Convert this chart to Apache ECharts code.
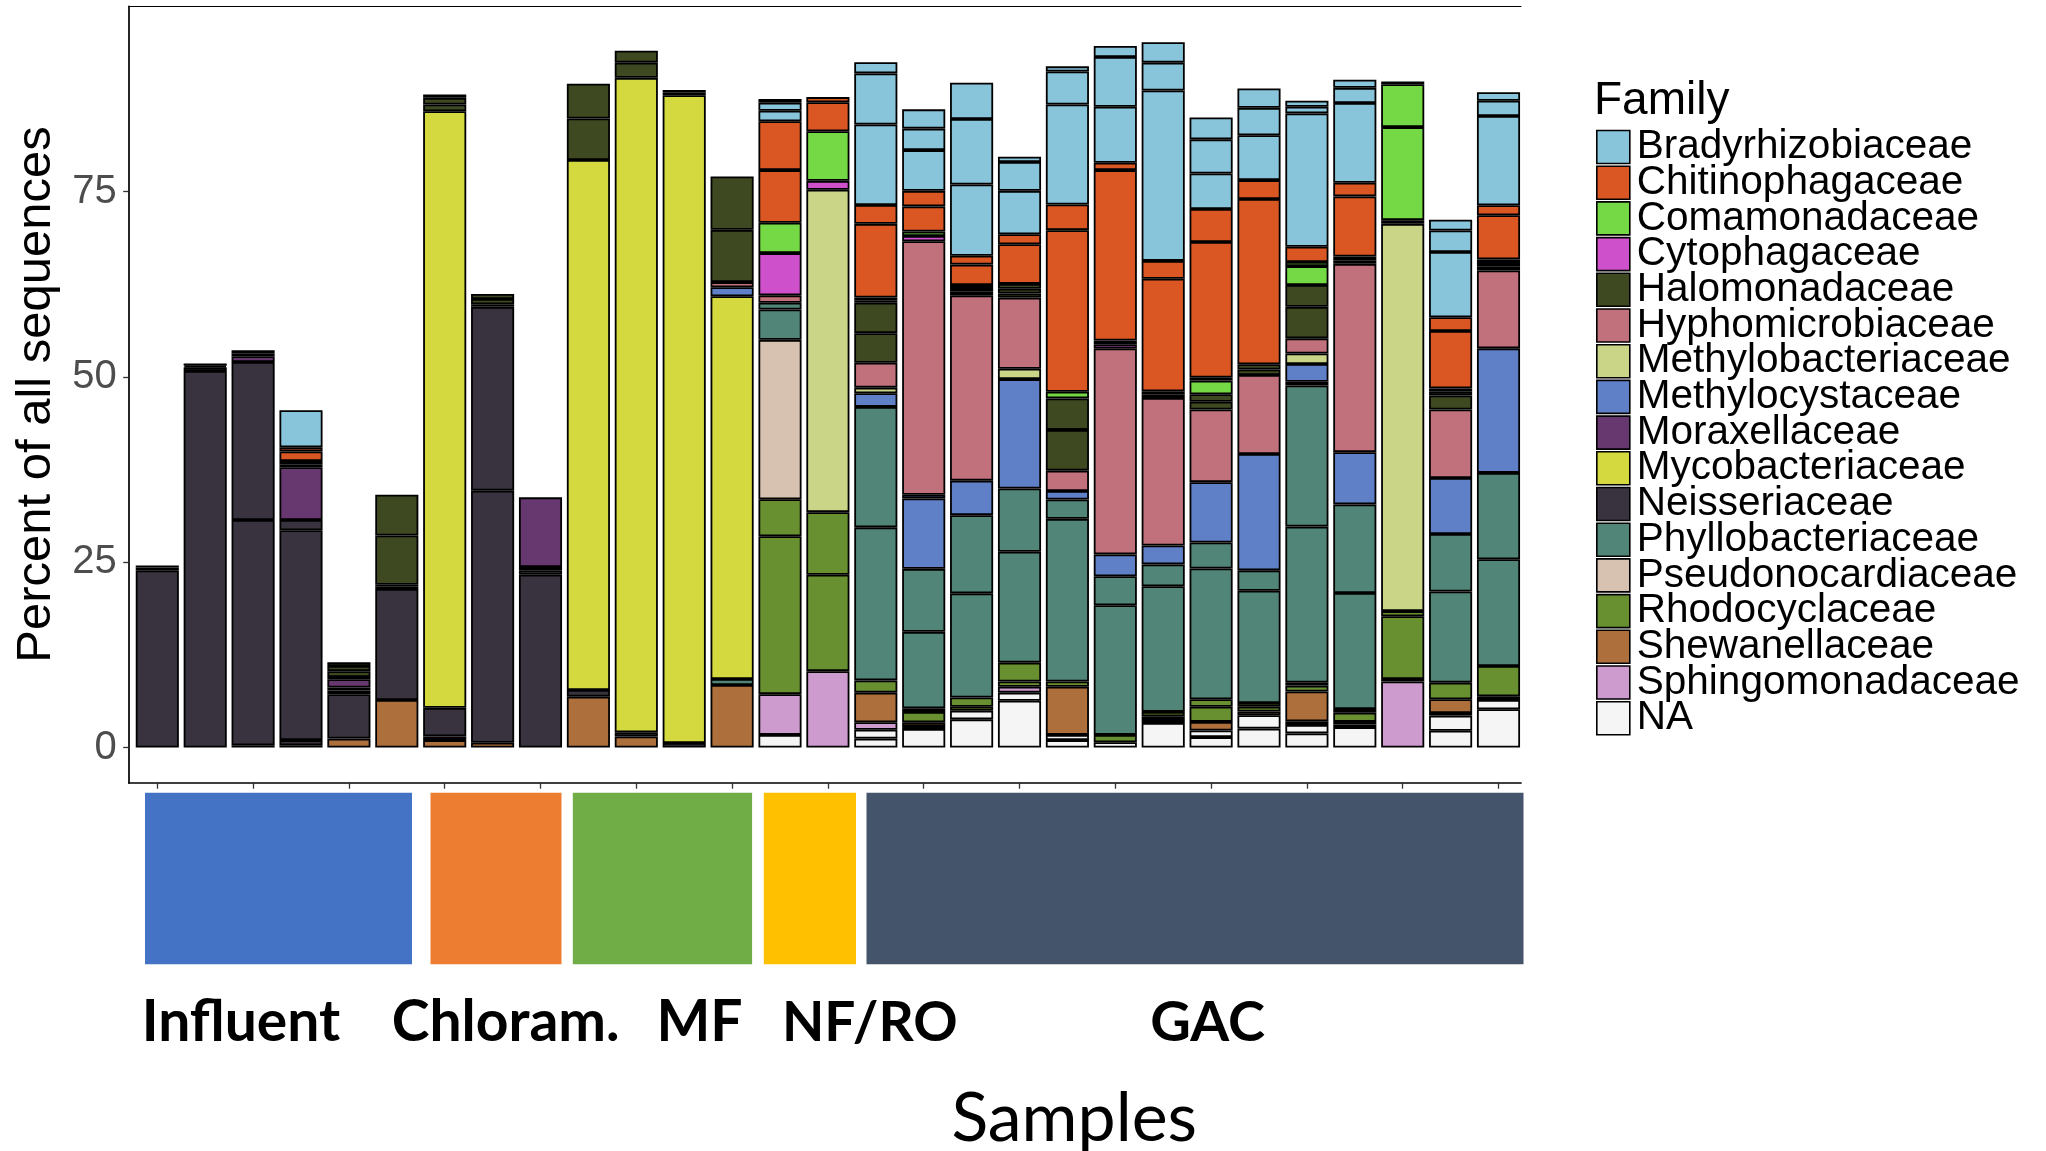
<!DOCTYPE html>
<html>
<head>
<meta charset="utf-8">
<script src="https://cdn.jsdelivr.net/npm/echarts@6/dist/echarts.min.js"></script>
<style>
html,body{margin:0;padding:0;background:#ffffff;}
#chart{width:2046px;height:1151px;}
</style>
</head>
<body>
<div id="chart"></div>
<script>
// ---- legend order (top to bottom) ----
const familyNames = ['Bradyrhizobiaceae','Chitinophagaceae','Comamonadaceae','Cytophagaceae','Halomonadaceae',
  'Hyphomicrobiaceae','Methylobacteriaceae','Methylocystaceae','Moraxellaceae','Mycobacteriaceae',
  'Neisseriaceae','Phyllobacteriaceae','Pseudonocardiaceae','Rhodocyclaceae','Shewanellaceae',
  'Sphingomonadaceae','NA'];
const familyCodes = ['Br','Ch','Co','Cy','Ha','Hy','Mb','Mc','Mo','My','Ne','Ph','Ps','Rh','Sh','Sp','NA'];
const familyColors = ['#89C5DA','#DA5724','#74D944','#CE50CA','#3F4921','#C0717C','#CBD588','#5F7FC7',
  '#673770','#D3D93E','#38333E','#508578','#D7C1B1','#689030','#AD6F3B','#CD9BCD','#F5F5F5'];

// ---- samples ----
const categories = ['Influent 1','Influent 2','Influent 3','Influent 4','Influent 5','Influent 6',
  'Chloram. 1','Chloram. 2','Chloram. 3','MF 1','MF 2','MF 3','MF 4','NF/RO 1','NF/RO 2',
  'GAC 1','GAC 2','GAC 3','GAC 4','GAC 5','GAC 6','GAC 7','GAC 8','GAC 9','GAC 10','GAC 11','GAC 12','GAC 13','GAC 14'];
const groupLabels = ['Influent','Chloram.','MF','NF/RO','GAC'];
const groupColors = ['#4472C4','#ED7D31','#70AD47','#FFC000','#44546A'];
const yTicks = [0, 25, 50, 75];

// ---- stacked segments per sample, bottom to top: [family code, percent] ----
const s01 = [['Ne',23.9],['Mo',0.4],['Ha',0.25]];
const s02 = [['Ne',50.8],['Ne',0.5],['Mo',0.2],['Ha',0.3]];
const s03 = [['Sh',0.3],['Ne',30.4],['Ne',21.3],['Mo',0.8],['Ha',0.4],['Ha',0.4]];
const s04 = [['Sh',0.3],['Ne',0.7],['Ne',28.3],['Ne',1.4],['Mo',7.1],['Mo',0.4],['Cy',0.45],['Ch',1.3],['Ch',0.55],['Br',5.0]];
const s05 = [['Sh',1.2],['Ne',6.0],['Ne',0.5],['Ne',0.4],['Mo',1.1],['Mo',0.3],['Ha',0.8],['Ha',0.7],['Ha',0.5]];
const s06 = [['Sh',6.4],['Ne',15.0],['Ne',0.3],['Mo',0.25],['Ha',6.65],['Ha',5.5]];
const s07 = [['Sh',1.0],['Ne',0.5],['Ne',3.85],['My',80.5],['Ha',0.9],['Ha',0.9],['Ha',0.45]];
const s08 = [['Sh',0.65],['Ne',34.0],['Ne',24.8],['Mo',0.35],['Ha',0.7],['Ha',0.7]];
const s09 = [['Ne',23.3],['Ne',0.6],['Ne',0.45],['Mo',9.4]];
const s10 = [['Sh',6.86],['Ne',0.9],['My',71.5],['Ha',5.6],['Ha',4.7]];
const s11 = [['Sh',1.5],['Ne',0.55],['My',88.3],['Ha',2.05],['Ha',1.6]];
const s12 = [['Ne',0.6],['My',87.4],['Ha',0.35],['Ha',0.35]];
const s13 = [['Sh',8.44],['Ph',0.8],['My',51.65],['Mc',1.2],['Hy',0.7],['Ha',7.05],['Ha',7.2]];
const s14 = [['NA',1.7],['Sp',5.5],['Rh',21.3],['Rh',5.0],['Ps',21.5],['Ph',4.1],['Ph',0.9],['Hy',1.0],['Cy',5.7],['Co',4.1],['Ch',7.1],['Ch',6.6],['Br',1.4],['Br',1.1],['Br',0.5]];
const s15 = [['Sp',10.3],['Rh',13.0],['Rh',8.45],['Mb',43.5],['Cy',1.2],['Co',6.7],['Ch',3.9],['Ch',0.7]];
const s16 = [['NA',1.2],['NA',1.2],['Sp',1.0],['Sh',4.0],['Rh',1.65],['Ph',20.65],['Ph',16.25],['Mc',1.85],['Mb',0.75],['Hy',3.35],['Ha',4.0],['Ha',4.1],['Ha',0.35],['Co',0.35],['Ch',9.95],['Ch',2.55],['Br',10.85],['Br',6.9],['Br',1.5]];
const s17 = [['NA',2.5],['Sp',0.4],['Sh',0.5],['Rh',1.4],['Rh',0.5],['Ph',10.3],['Ph',8.5],['Mc',9.5],['Mc',0.5],['Hy',34.2],['Cy',0.7],['Co',0.6],['Ch',3.4],['Ch',2.1],['Br',5.5],['Br',2.9],['Br',2.6]];
const s18 = [['NA',3.8],['NA',1.15],['Rh',0.55],['Rh',1.25],['Ph',14.05],['Ph',10.55],['Mc',4.65],['Hy',25.0],['Ha',0.5],['Co',0.5],['Co',0.4],['Ch',2.75],['Ch',1.2],['Br',9.6],['Br',8.85],['Br',4.9]];
const s19 = [['NA',6.3],['NA',1.1],['Sp',0.8],['Rh',0.7],['Rh',2.55],['Ph',14.95],['Ph',8.55],['Mc',14.75],['Mb',1.4],['Hy',9.6],['Ha',0.55],['Ha',0.65],['Ha',0.65],['Ch',5.35],['Ch',1.35],['Br',5.85],['Br',3.9],['Br',0.7]];
const s20 = [['NA',1.0],['NA',0.7],['Sh',6.5],['Rh',0.7],['Ph',21.95],['Ph',2.6],['Mc',1.15],['Hy',2.75],['Ha',5.5],['Ha',4.25],['Co',0.9],['Ch',21.8],['Ch',3.45],['Br',13.5],['Br',4.45],['Br',0.7]];
const s21 = [['NA',0.7],['Rh',1.0],['Ph',17.5],['Ph',3.9],['Mc',2.95],['Hy',27.8],['Cy',0.55],['Co',0.5],['Ch',23.0],['Ch',1.0],['Br',7.55],['Br',6.7],['Br',1.5]];
const s22 = [['NA',3.3],['Sp',0.4],['Sh',0.5],['Rh',0.6],['Ph',16.95],['Ph',2.95],['Mc',2.55],['Hy',19.9],['Ha',0.45],['Cy',0.45],['Ch',15.2],['Ch',2.4],['Br',23.0],['Br',3.75],['Br',2.75]];
const s23 = [['NA',1.4],['NA',0.9],['Sh',1.15],['Rh',2.05],['Rh',1.0],['Ph',17.65],['Ph',3.5],['Mc',8.15],['Hy',9.8],['Ha',1.05],['Ha',1.0],['Co',1.85],['Co',0.4],['Ch',18.3],['Ch',4.45],['Br',4.8],['Br',4.6],['Br',2.95]];
const s24 = [['NA',2.55],['NA',1.8],['Sh',0.5],['Rh',0.65],['Rh',0.5],['Ph',15.15],['Ph',2.75],['Mc',15.7],['Hy',10.65],['Ha',0.75],['Ha',0.7],['Ch',22.3],['Ch',2.55],['Br',6.05],['Br',3.7],['Br',2.6]];
const s25 = [['NA',1.9],['NA',1.15],['Sp',0.5],['Sh',4.0],['Rh',0.8],['Rh',0.4],['Ph',21.05],['Ph',19.05],['Mc',0.5],['Mc',2.4],['Mb',1.4],['Hy',2.05],['Ha',4.25],['Ha',2.95],['Co',2.55],['Co',0.55],['Ch',2.05],['Br',18.0],['Br',0.9],['Br',0.8]];
const s26 = [['NA',2.75],['Sp',0.35],['Sh',0.35],['Rh',1.25],['Rh',0.5],['Ph',15.65],['Ph',11.95],['Mc',7.05],['Hy',25.4],['Ha',0.5],['Cy',0.5],['Ch',8.1],['Ch',1.85],['Br',10.75],['Br',2.05],['Br',1.1]];
const s27 = [['Sp',8.9],['Rh',0.35],['Rh',8.45],['Rh',0.7],['Mb',52.25],['Cy',0.5],['Co',12.55],['Co',5.8],['Ch',0.35]];
const s28 = [['NA',2.25],['NA',2.05],['Sh',0.35],['Sh',1.85],['Rh',2.25],['Ph',12.3],['Ph',7.75],['Mc',7.55],['Hy',9.25],['Ha',1.9],['Ha',0.5],['Cy',0.45],['Ch',7.75],['Ch',1.85],['Br',8.8],['Br',2.9],['Br',1.45]];
const s29 = [['NA',5.15],['NA',1.25],['Sp',0.5],['Rh',4.1],['Ph',14.4],['Ph',11.65],['Mc',16.8],['Hy',10.5],['Ha',0.5],['Ha',0.5],['Cy',0.5],['Ch',5.95],['Ch',1.35],['Br',12.05],['Br',2.05],['Br',1.15]];

const samples = [s01,s02,s03,s04,s05,s06,s07,s08,s09,s10,s11,s12,s13,s14,s15,s16,s17,s18,s19,s20,
  s21,s22,s23,s24,s25,s26,s27,s28,s29];

// ---- build one bar series per (family, sub-layer), stacked bottom to top ----
const stackOrder = familyCodes.slice().reverse(); // bottom (NA) -> top (Br)
const series = [];
stackOrder.forEach(function (code) {
  const fi = familyCodes.indexOf(code);
  const perSample = samples.map(function (s) {
    return s.filter(function (seg) { return seg[0] === code; }).map(function (seg) { return seg[1]; });
  });
  const maxK = Math.max.apply(null, perSample.map(function (a) { return a.length; }));
  for (let k = 0; k < maxK; k++) {
    series.push({
      type: 'bar',
      name: familyNames[fi],
      stack: 'total',
      xAxisIndex: 2,
      yAxisIndex: 1,
      barWidth: 43.1,
      itemStyle: { color: familyColors[fi], borderColor: '#000000', borderWidth: 1.8 },
      emphasis: { disabled: true },
      data: perSample.map(function (a) { return a.length > k ? a[k] : '-'; })
    });
  }
});

const FONT = 'Liberation Sans, Arial, Helvetica, sans-serif';
const LABEL_FONT = 'Lato, Open Sans, sans-serif';

const chart = echarts.init(document.getElementById('chart'), null, { renderer: 'canvas' });
chart.setOption({
  animation: false,
  backgroundColor: '#ffffff',
  title: {
    text: 'Family', left: 1594, top: 78, padding: 0,
    textStyle: { fontSize: 46, fontWeight: 'normal', fontFamily: FONT, color: '#000000' }
  },
  legend: {
    orient: 'vertical', left: 1596, top: 126.5, padding: 0,
    itemWidth: 33, itemHeight: 33, itemGap: -5.3, icon: 'rect',
    selectedMode: false,
    data: familyNames,
    itemStyle: { borderWidth: 1.6, borderColor: '#000000' },
    textStyle: { fontSize: 40.5, fontFamily: FONT, color: '#000000', padding: [0, 0, 0, 2] }
  },
  grid: [
    { left: 128.7, top: 6.3, width: 1392.3, height: 776.4, containLabel: false },
    { left: 133.35, top: 6.3, width: 1389.1, height: 776.4, containLabel: false }
  ],
  xAxis: [
    { gridIndex: 0, type: 'value', min: 0, max: 1, position: 'bottom',
      axisLine: { show: true, onZero: false, lineStyle: { color: '#000000', width: 1.7 } },
      axisTick: { show: false }, axisLabel: { show: false }, splitLine: { show: false } },
    { gridIndex: 0, type: 'value', min: 0, max: 1, position: 'top',
      axisLine: { show: true, onZero: false, lineStyle: { color: '#000000', width: 1.1 } },
      axisTick: { show: false }, axisLabel: { show: false }, splitLine: { show: false } },
    { gridIndex: 1, type: 'category', data: categories, position: 'bottom',
      axisLine: { show: false, onZero: false },
      axisTick: { show: true, alignWithLabel: true, length: 6, lineStyle: { color: '#333333', width: 1.3 } },
      axisLabel: { show: false }, splitLine: { show: false } }
  ],
  yAxis: [
    { gridIndex: 0, type: 'value', min: -4.75, max: 100,
      axisLine: { show: true, onZero: false, lineStyle: { color: '#000000', width: 1.7 } },
      axisTick: { show: true, length: 5.5, customValues: yTicks, lineStyle: { color: '#333333', width: 1.3 } },
      axisLabel: { show: true, customValues: yTicks, fontSize: 40, color: '#4D4D4D', margin: 12, fontFamily: FONT },
      splitLine: { show: false },
      name: 'Percent of all sequences', nameLocation: 'middle', nameGap: 61,
      nameTextStyle: { fontSize: 49, color: '#000000', fontFamily: FONT } },
    { gridIndex: 1, type: 'value', min: -4.75, max: 100, show: false,
      axisLine: { onZero: false }, splitLine: { show: false } }
  ],
  series: series,
  graphic: [
    { type: 'rect', silent: true, shape: { x: 145, y: 792.7, width: 267, height: 171.6 }, style: { fill: groupColors[0] } },
    { type: 'rect', silent: true, shape: { x: 430.5, y: 792.7, width: 131, height: 171.6 }, style: { fill: groupColors[1] } },
    { type: 'rect', silent: true, shape: { x: 572.8, y: 792.7, width: 179.3, height: 171.6 }, style: { fill: groupColors[2] } },
    { type: 'rect', silent: true, shape: { x: 763.8, y: 792.7, width: 92.2, height: 171.6 }, style: { fill: groupColors[3] } },
    { type: 'rect', silent: true, shape: { x: 866.5, y: 792.7, width: 657, height: 171.6 }, style: { fill: groupColors[4] } },
    { type: 'text', silent: true, x: 241, y: 1023, style: { text: groupLabels[0], fill: '#000', font: 'bold 57px ' + LABEL_FONT, textAlign: 'center', textVerticalAlign: 'middle' } },
    { type: 'text', silent: true, x: 505.7, y: 1023, style: { text: groupLabels[1], fill: '#000', font: 'bold 57px ' + LABEL_FONT, textAlign: 'center', textVerticalAlign: 'middle' } },
    { type: 'text', silent: true, x: 699.5, y: 1023, style: { text: groupLabels[2], fill: '#000', font: 'bold 57px ' + LABEL_FONT, textAlign: 'center', textVerticalAlign: 'middle' } },
    { type: 'text', silent: true, x: 869.8, y: 1023, style: { text: groupLabels[3], fill: '#000', font: 'bold 55px ' + LABEL_FONT, textAlign: 'center', textVerticalAlign: 'middle' } },
    { type: 'text', silent: true, x: 1207.6, y: 1023, style: { text: groupLabels[4], fill: '#000', font: 'bold 56px ' + LABEL_FONT, textAlign: 'center', textVerticalAlign: 'middle' } },
    { type: 'text', silent: true, x: 1074.2, y: 1119, style: { text: 'Samples', fill: '#000', font: '68px ' + LABEL_FONT, textAlign: 'center', textVerticalAlign: 'middle' } }
  ]
});
</script>
</body>
</html>
